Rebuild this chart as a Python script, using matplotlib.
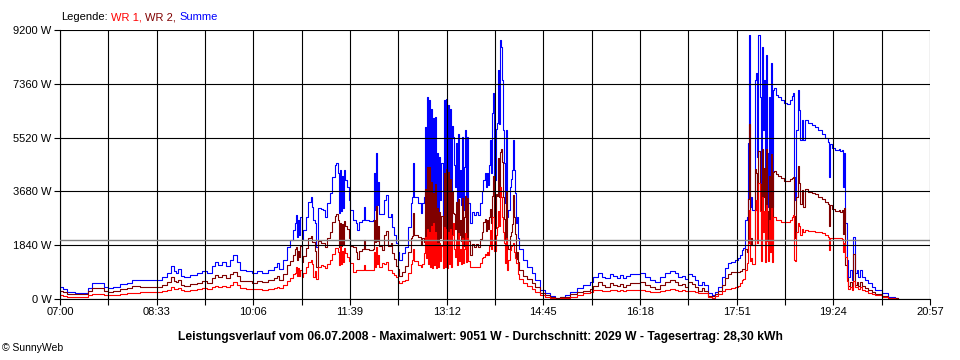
import matplotlib
matplotlib.use("Agg")
import matplotlib.pyplot as plt
from matplotlib.offsetbox import TextArea, HPacker, AnchoredOffsetbox
import numpy as np

plt.rcParams['font.family'] = ['Liberation Sans', 'DejaVu Sans']
plt.rcParams['font.size'] = 8

# minutes after 07:00
minutes = [
    0, 3, 7, 14, 22, 27, 31, 38, 42, 46, 51, 58, 64, 69, 77, 87, 93, 98, 103, 107,
    110, 112, 114, 116, 119, 125, 132, 137, 141, 146, 149, 152, 156, 160, 164, 166, 170, 173, 179, 185,
    190, 194, 200, 206, 209, 211, 215, 218, 221, 224, 226, 227, 228, 229, 230, 231, 233, 234, 237, 239,
    241, 242, 243, 245, 246, 248, 251, 253, 255, 257, 260, 262, 265, 266, 267, 268, 269, 270, 271, 272,
    273, 274, 276, 278, 279, 282, 285, 286, 288, 291, 292, 293, 297, 301, 302, 303, 304, 305, 306, 307,
    310, 312, 314, 316, 318, 319, 321, 323, 325, 326, 329, 332, 335, 338, 339, 340, 341, 344, 347, 348,
    350, 351, 352, 353, 354, 355, 356, 357, 358, 359, 360, 361, 362, 363, 364, 365, 366, 367, 368, 369,
    370, 371, 372, 373, 374, 375, 376, 377, 378, 379, 380, 381, 382, 383, 384, 385, 386, 387, 388, 389,
    390, 391, 392, 393, 394, 396, 398, 400, 402, 404, 406, 407, 409, 410, 411, 412, 413, 414, 415, 416,
    417, 418, 419, 420, 421, 422, 423, 424, 425, 426, 427, 428, 429, 430, 431, 433, 434, 435, 436, 437,
    438, 439, 440, 441, 442, 445, 449, 454, 457, 462, 467, 471, 476, 481, 486, 491, 497, 503, 510, 513,
    518, 521, 524, 529, 532, 536, 539, 542, 545, 548, 555, 558, 563, 568, 572, 577, 582, 587, 592, 595,
    598, 601, 604, 608, 611, 614, 618, 620, 623, 627, 630, 633, 637, 640, 643, 646, 649, 652, 654, 656,
    657, 659, 661, 662, 663, 664, 665, 666, 669, 670, 671, 672, 673, 674, 675, 676, 677, 678, 679, 680,
    681, 682, 683, 684, 685, 686, 687, 689, 691, 694, 697, 699, 702, 704, 705, 706, 707, 708, 710, 711,
    712, 714, 715, 717, 720, 723, 726, 729, 733, 736, 739, 740, 741, 743, 746, 749, 750, 752, 753, 754,
    755, 757, 758, 760, 762, 763, 765, 767, 768, 770, 772, 774, 777, 781, 784, 791, 797, 803, 806,
]

wr1 = [
    135, 100, 70, 60, 60, 120, 160, 165, 140, 130, 145, 175, 195, 215, 230, 245, 250, 280, 320, 400,
    350, 330, 360, 300, 290, 320, 345, 360, 350, 410, 450, 420, 460, 420, 480, 570, 480, 370, 350, 330,
    340, 320, 350, 390, 420, 380, 480, 620, 720, 850, 880, 1090, 800, 1050, 780, 1000, 740, 880, 1080, 1250,
    1330, 1200, 760, 950, 700, 1100, 1160, 1130, 1050, 1200, 1330, 1550, 1735, 1750, 1600, 1160, 1800, 1200, 1650, 1250,
    1750, 1560, 1450, 1300, 1220, 935, 990, 990, 990, 1000, 1150, 1000, 990, 1000, 1600, 1100, 1790, 1200, 1500, 1100,
    1220, 1200, 1250, 1000, 1000, 900, 820, 760, 600, 535, 620, 650, 880, 1200, 1330, 1700, 1300, 1160, 1100, 1200,
    1560, 2130, 1400, 2400, 1200, 2300, 1100, 2500, 1050, 2590, 1150, 2300, 1050, 1900, 1100, 1900, 1300, 1800, 1050, 2475,
    1100, 2400, 1050, 2300, 1200, 2400, 1100, 2200, 2600, 1700, 1450, 2000, 1150, 2250, 1300, 1700, 1200, 2100, 1220, 1700,
    2250, 1250, 2100, 1300, 1100, 1105, 1105, 1105, 1105, 1220, 1400, 1450, 1550, 1500, 1600, 1500, 1800, 2360, 1700, 2815,
    2815, 1650, 2200, 2475, 3000, 2500, 3840, 3500, 2815, 2300, 1900, 1220, 2100, 990, 1335, 1680, 1800, 1850, 1900, 1600,
    1400, 1220, 1220, 850, 700, 540, 430, 340, 250, 120, 70, 30, 10, 20, 50, 80, 130, 195, 250, 310,
    300, 290, 280, 310, 300, 290, 300, 280, 300, 310, 305, 300, 290, 250, 240, 290, 300, 330, 310, 290,
    295, 260, 290, 280, 250, 190, 220, 190, 80, 25, 90, 160, 280, 330, 350, 365, 420, 450, 560, 650,
    700, 1000, 1220, 1900, 3040, 1300, 1400, 1200, 3040, 3400, 1900, 3960, 3000, 1300, 3500, 2300, 3000, 1250, 3200, 2000,
    1300, 2700, 1600, 3100, 1250, 2815, 2815, 2700, 2700, 2650, 2645, 2650, 2700, 2800, 2870, 1335, 1300, 2300, 2600, 2500,
    2200, 2400, 2300, 2360, 2340, 2320, 2300, 2280, 2250, 2180, 2130, 1680, 2100, 2075, 2075, 2075, 2075, 2060, 1600, 1900,
    1450, 600, 330, 420, 300, 600, 400, 420, 330, 420, 320, 270, 220, 180, 130, 80, 30, 5, 0,
]

wr2 = [
    275, 230, 170, 155, 160, 260, 385, 385, 280, 245, 275, 325, 365, 445, 420, 415, 410, 480, 580, 740,
    610, 570, 660, 480, 450, 500, 555, 610, 550, 720, 825, 740, 815, 710, 850, 935, 795, 620, 610, 560,
    620, 580, 640, 710, 800, 650, 850, 1170, 1300, 1510, 1720, 1780, 1330, 1650, 1420, 1800, 1280, 1480, 1735, 2080,
    2150, 1960, 1940, 1650, 1090, 2000, 1920, 1910, 1765, 2070, 2285, 2630, 2845, 2890, 2700, 1780, 2610, 1800, 2550, 1850,
    2660, 2510, 2390, 2085, 1820, 1765, 1610, 1370, 1655, 1700, 2010, 1700, 1680, 1700, 2700, 1940, 3190, 2000, 2500, 1800,
    1680, 2185, 2310, 1815, 1900, 1575, 1370, 1145, 1020, 800, 940, 1140, 1595, 2100, 2170, 2940, 2200, 2110, 1830, 2070,
    1940, 3760, 2100, 4520, 1600, 4500, 2100, 4000, 1550, 3610, 1850, 3935, 1250, 3100, 1500, 2970, 2100, 2840, 1450, 4325,
    1900, 4450, 1765, 4350, 2100, 4100, 1715, 3700, 2950, 2900, 2390, 3320, 1850, 3410, 2200, 2710, 2000, 3450, 1820, 2800,
    3530, 1950, 3450, 2000, 1500, 1880, 1765, 1880, 1765, 2050, 2300, 2620, 2750, 2340, 2700, 2400, 2800, 3080, 2600, 3535,
    4220, 2420, 3600, 3535, 4830, 3500, 5020, 5130, 4675, 3480, 2740, 2050, 3680, 1825, 1705, 2160, 2300, 2560, 3540, 2810,
    2210, 1380, 1595, 1250, 1000, 795, 675, 540, 400, 190, 125, 85, 35, 55, 85, 170, 235, 285, 340, 450,
    580, 470, 425, 545, 490, 440, 520, 425, 485, 545, 535, 580, 470, 400, 350, 470, 580, 640, 570, 470,
    505, 410, 565, 500, 400, 290, 370, 290, 115, 110, 160, 260, 480, 720, 870, 910, 910, 940, 945, 1030,
    1035, 1700, 1595, 3420, 5990, 1860, 2100, 1840, 4450, 4320, 2970, 5070, 3920, 1860, 5130, 3480, 4490, 1910, 5140, 3000,
    1860, 4220, 2400, 4960, 1910, 4335, 4385, 4280, 4220, 4150, 4045, 4030, 4100, 4150, 4170, 2845, 2100, 3480, 4550, 3960,
    3240, 3720, 3140, 3760, 3670, 3630, 3590, 3500, 3410, 3310, 3250, 2500, 3200, 3075, 3025, 3055, 2975, 3040, 2240, 3100,
    1150, 730, 430, 570, 350, 1530, 480, 570, 430, 570, 440, 380, 315, 240, 180, 115, 50, 20, 0,
]

summe = [a + b for a, b in zip(wr1, wr2)]
durchschnitt = 2029

y_ticks = [0, 1840, 3680, 5520, 7360, 9200]
x_labels = ["07:00", "08:33", "10:06", "11:39", "13:12", "14:45", "16:18", "17:51", "19:24", "20:57"]

fig = plt.figure(figsize=(9.6, 3.6), dpi=100, facecolor='white')
ax = fig.add_axes([60 / 960, 61 / 360, 870 / 960, 269 / 360])

ax.plot(minutes, summe, color='#0000ff', lw=0.8, drawstyle='steps-post', zorder=2)
ax.plot(minutes, wr2, color='#800000', lw=0.8, drawstyle='steps-post', zorder=2)
ax.plot(minutes, wr1, color='#ff0000', lw=0.8, drawstyle='steps-post', zorder=2)
ax.axhline(durchschnitt, color='#808080', lw=1.0, zorder=4)

ax.set_xlim(0, 837)
ax.set_ylim(0, 9200)
xt = np.arange(0, 838, 46.5)
ax.set_xticks(xt)
labels = []
for i in range(len(xt)):
    labels.append(x_labels[i // 2] if i % 2 == 0 else "")
ax.set_xticklabels(labels)
ax.set_yticks(y_ticks)
ax.set_yticklabels([f"{v} W" for v in y_ticks])

ax.set_axisbelow(False)
ax.grid(True, color='black', lw=0.8)
for s in ['top', 'right']:
    ax.spines[s].set_visible(False)
for s in ['left', 'bottom']:
    ax.spines[s].set_color('black')
    ax.spines[s].set_linewidth(0.8)
ax.tick_params(direction='out', length=4, width=0.8, colors='black', labelsize=8, pad=2)

# legend line at the top
parts = [TextArea("Legende:", textprops=dict(color='black', fontsize=8)),
         TextArea("WR 1,", textprops=dict(color='#ff0000', fontsize=8)),
         TextArea("WR 2,", textprops=dict(color='#800000', fontsize=8)),
         TextArea("Summe", textprops=dict(color='#0000ff', fontsize=8))]
box = HPacker(children=parts, align='baseline', pad=0, sep=2.5)
anch = AnchoredOffsetbox(loc='center left', child=box, pad=0, borderpad=0, frameon=False,
                         bbox_to_anchor=(61 / 960, (360 - 17) / 360), bbox_transform=fig.transFigure)
fig.add_artist(anch)

fig.text(0.5, (360 - 337) / 360,
         "Leistungsverlauf vom 06.07.2008 - Maximalwert: 9051 W - Durchschnitt: 2029 W - Tagesertrag: 28,30 kWh",
         ha='center', va='center', fontsize=8.7, fontweight='bold')
fig.text(2 / 960, (360 - 348) / 360, "© SunnyWeb", ha='left', va='center', fontsize=7.5)

fig.savefig("out.png", dpi=100, facecolor='white')
